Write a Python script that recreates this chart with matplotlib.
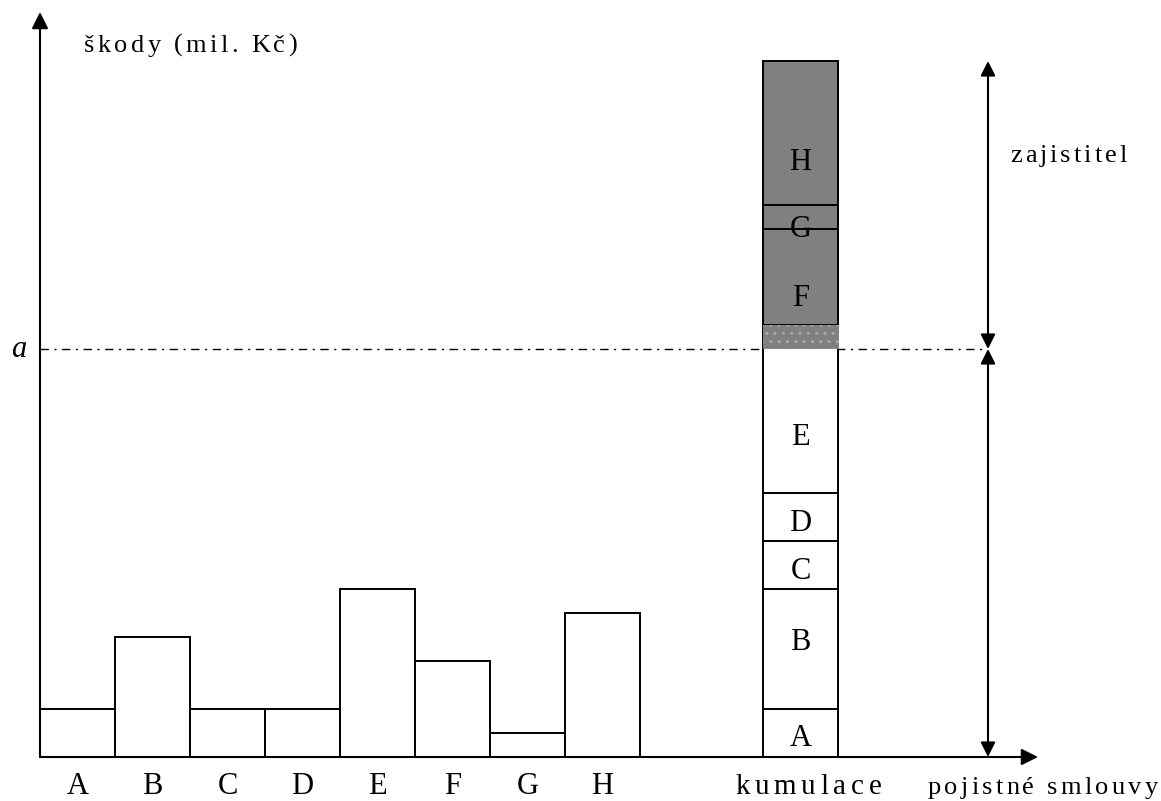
import matplotlib
matplotlib.use("Agg")
import matplotlib.pyplot as plt
import matplotlib.text as mtext
from matplotlib.transforms import IdentityTransform

categories = ["A", "B", "C", "D", "E", "F", "G", "H"]
values = [2, 5, 2, 2, 7, 4, 1, 6]
a_level = 17
cum_label = "kumulace"
y_label = "škody (mil. Kč)"
x_label = "pojistné smlouvy"
reins_label = "zajistitel"

# layout: baselines of the letters inside the stacked bar (data units)
seg_label_base = [0.45, 4.45, 7.4, 9.4, 13.0, 18.8, 21.67, 24.45]

plt.rcParams['font.family'] = ['Liberation Serif', 'DejaVu Serif']


class TrackedText(mtext.Text):
    """Text drawn with extra letter spacing (tracking, in pixels)."""
    def __init__(self, x, y, text, tracking=0.0, **kw):
        super().__init__(x, y, text, **kw)
        self._tracking = tracking

    def draw(self, renderer):
        if not self.get_visible():
            return
        s = self.get_text()
        fp = self.get_fontproperties()
        trk = self._tracking

        def w(t):
            return renderer.get_text_width_height_descent(t, fp, ismath=False)[0]
        bar = w('|')
        pos = [w(s[:i] + '|') - bar + i * trk for i in range(len(s))]
        total = w(s) + (len(s) - 1) * trk
        x0, y0 = self.get_transform().transform((self._x, self._y))
        ha = self.get_horizontalalignment()
        if ha == 'center':
            x0 -= total / 2
        elif ha == 'right':
            x0 -= total
        for ch, p in zip(s, pos):
            t = mtext.Text(x0 + p, y0, ch, fontproperties=fp, color=self.get_color(),
                           va=self.get_verticalalignment(), ha='left',
                           transform=IdentityTransform())
            t.set_figure(self.figure)
            t.draw(renderer)


fig = plt.figure(figsize=(11.61, 8.01), dpi=100)
ax = fig.add_axes([0, 0, 1, 1])
ax.set_xlim(-40/75, (1161-40)/75)
ax.set_ylim((757-801)/24, 757/24)
ax.axis('off')


def px_x(p):
    return (p - 40) / 75


def px_y(p):
    return (757 - p) / 24


lw = 1.4
letter_size = 22
cat_base = px_y(793.5)

# individual bars
for i, (c, v) in enumerate(zip(categories, values)):
    ax.bar(i, v, width=1, align='edge', facecolor='white', edgecolor='black', linewidth=lw, zorder=2)
    ax.text(i + 0.5, cat_base, c, ha='center', va='baseline', fontsize=letter_size)

# cumulative bar
cx = px_x(763)
bottom = 0
for c, v in zip(categories, values):
    fc = '#808080' if bottom >= a_level else 'white'
    ax.bar(cx, v, width=1, bottom=bottom, align='edge', facecolor=fc, edgecolor='black', linewidth=lw, zorder=2)
    bottom += v
# portion above retention inside the segment crossing a
bottom = 0
for c, v in zip(categories, values):
    if bottom < a_level < bottom + v:
        ax.bar(cx, bottom + v - a_level, width=1.01, bottom=a_level, align='edge',
               facecolor='#808080', edgecolor='#a8a8a8', hatch='..', linewidth=0, zorder=3)
    bottom += v
for c, lb in zip(categories, seg_label_base):
    ax.text(cx + 0.5, lb, c, ha='center', va='baseline', fontsize=letter_size, zorder=4)

ax.add_artist(TrackedText(px_x(735), px_y(794), cum_label, tracking=4.8, fontsize=21,
                          ha='left', va='baseline', transform=ax.transData))

# retention line
ax.plot([0, px_x(985)], [a_level, a_level], color='black', linewidth=1,
        linestyle=(0, (6, 4, 1.5, 4)), zorder=1)
ax.text(px_x(18.5), px_y(357), "a", ha='center', va='baseline', fontsize=22, style='italic')

# axes arrows
ax.annotate('', xy=(0, px_y(12)), xytext=(0, 0),
            arrowprops=dict(arrowstyle='-|>', color='black', lw=1.5, mutation_scale=25, shrinkA=0, shrinkB=0))
ax.annotate('', xy=(px_x(1038), 0), xytext=(0, 0),
            arrowprops=dict(arrowstyle='-|>', color='black', lw=1.5, mutation_scale=25, shrinkA=0, shrinkB=0))

# right double arrows
rx = px_x(988)
total = sum(values)
ax.annotate('', xy=(rx, total), xytext=(rx, a_level),
            arrowprops=dict(arrowstyle='<|-|>', color='black', lw=1.5, mutation_scale=22, shrinkA=0, shrinkB=0))
ax.annotate('', xy=(rx, a_level), xytext=(rx, 0),
            arrowprops=dict(arrowstyle='<|-|>', color='black', lw=1.5, mutation_scale=22, shrinkA=0, shrinkB=0))

ax.add_artist(TrackedText(px_x(1010), px_y(162), reins_label, tracking=3.0, fontsize=19,
                          ha='left', va='baseline', transform=ax.transData))
ax.add_artist(TrackedText(px_x(84), px_y(52), y_label, tracking=3.3, fontsize=19,
                          ha='left', va='baseline', transform=ax.transData))
ax.add_artist(TrackedText(px_x(928), px_y(794), x_label, tracking=3.2, fontsize=19,
                          ha='left', va='baseline', transform=ax.transData))

fig.savefig('out.png', dpi=100)
